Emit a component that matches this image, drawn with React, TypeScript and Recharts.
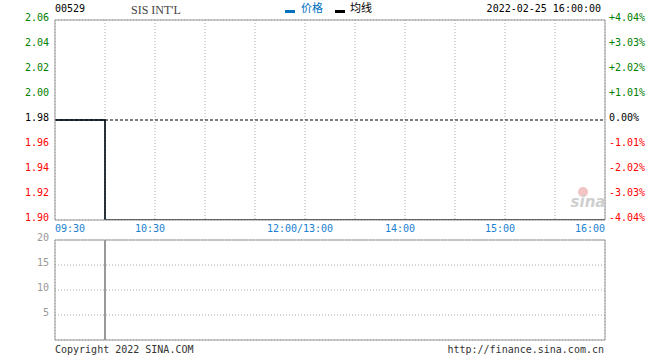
import React from "react";
import {
  ComposedChart,
  Line,
  Bar,
  XAxis,
  YAxis,
  CartesianGrid,
  ReferenceLine,
} from "recharts";

// minutes since 09:30 (lunch break removed), 330 = 16:00
const timeTicks = [0, 30, 60, 90, 120, 150, 180, 210, 240, 270, 300, 330];
const timeLabels: Record<number, string> = {
  0: "09:30",
  60: "10:30",
  150: "12:00/13:00",
  210: "14:00",
  270: "15:00",
  330: "16:00",
};

const priceMinutes = [0, 30, 330];
const prices = [1.98, 1.9, 1.9];
const avgPrices = [1.98, 1.9, 1.9];
const prevClose = 1.98;

const priceTicks = [1.9, 1.92, 1.94, 1.96, 1.98, 2.0, 2.02, 2.04, 2.06];
const pctLabels = ["-4.04%", "-3.03%", "-2.02%", "-1.01%", "0.00%", "+1.01%", "+2.02%", "+3.03%", "+4.04%"];

const volMinutes = [30];
const volumes = [20];
const volTicks = [0, 5, 10, 15, 20];

const priceData = priceMinutes.map((m, i) => ({ t: m, price: prices[i], avg: avgPrices[i] }));
const volData = volMinutes.map((m, i) => ({ t: m, vol: volumes[i] }));

const MONO = "'DejaVu Sans Mono', monospace";
const GREEN = "#008000";
const RED = "#ff0000";
const BLUE = "#1a7fd0";
const BORDER = "#999";

function colorFor(v: number) {
  if (Math.abs(v - prevClose) < 1e-6) return "#000";
  return v > prevClose ? GREEN : RED;
}

const LeftTick = (props: any) => {
  const { x, y, payload } = props;
  return (
    <text x={x} y={y - 2} textAnchor="end" dominantBaseline="middle" fontFamily={MONO} fontSize={10} fill={colorFor(payload.value)}>
      {payload.value.toFixed(2)}
    </text>
  );
};

const RightTick = (props: any) => {
  const { x, y, payload, index } = props;
  return (
    <text x={x} y={y - 2} textAnchor="start" dominantBaseline="middle" fontFamily={MONO} fontSize={10} fill={colorFor(payload.value)}>
      {pctLabels[index]}
    </text>
  );
};

const TimeTick = (props: any) => {
  const { x, y, payload } = props;
  const label = timeLabels[payload.value];
  if (!label) return null;
  let anchor: "start" | "middle" | "end" = "middle";
  let dx = -5;
  if (payload.value === 0) { anchor = "start"; dx = 0; }
  if (payload.value === 330) { anchor = "end"; dx = 0; }
  return (
    <text x={x + dx} y={y + 7} textAnchor={anchor} dominantBaseline="middle" fontFamily={MONO} fontSize={10} fill={BLUE}>
      {label}
    </text>
  );
};

const VolTick = (props: any) => {
  const { x, y, payload } = props;
  if (payload.value === 0) return null;
  return (
    <text x={x} y={y - 2} textAnchor="end" dominantBaseline="middle" fontFamily={MONO} fontSize={10} fill="#999">
      {payload.value}
    </text>
  );
};

export default function App() {
  return (
    <div style={{ position: "absolute", left: 0, top: 0, width: 660, height: 360, background: "#fff" }}>
      <div style={{ position: "absolute", left: 0, top: 0 }}>
        <ComposedChart width={660} height={240} data={priceData} margin={{ top: 20, right: 0, bottom: 0, left: 0 }}>
          <CartesianGrid stroke="#aaa" strokeDasharray="1 2" />
          <XAxis
            dataKey="t"
            type="number"
            domain={[0, 330]}
            ticks={timeTicks}
            interval={0}
            height={20}
            tickSize={0}
            tickLine={false}
            axisLine={{ stroke: BORDER }}
            tick={<TimeTick />}
          />
          <YAxis
            yAxisId="left"
            orientation="left"
            width={55}
            domain={[1.9, 2.06]}
            ticks={priceTicks}
            interval={0}
            allowDataOverflow
            tickSize={4}
            tickLine={false}
            axisLine={{ stroke: BORDER }}
            tick={<LeftTick />}
          />
          <YAxis
            yAxisId="right"
            orientation="right"
            width={55}
            domain={[1.9, 2.06]}
            ticks={priceTicks}
            interval={0}
            allowDataOverflow
            tickSize={2}
            tickLine={false}
            axisLine={{ stroke: BORDER }}
            tick={<RightTick />}
          />
          <ReferenceLine yAxisId="left" y={2.06} stroke={BORDER} />
          <ReferenceLine yAxisId="left" y={prevClose} stroke="#000" strokeDasharray="3 2" />
          <Line yAxisId="left" dataKey="price" type="stepAfter" stroke="#0070c0" strokeWidth={0.6} dot={false} isAnimationActive={false} />
          <Line yAxisId="left" dataKey="avg" type="stepAfter" stroke="#000" strokeWidth={1.5} dot={false} isAnimationActive={false} />
        </ComposedChart>
      </div>
      <div style={{ position: "absolute", left: 0, top: 230 }}>
        <ComposedChart width={660} height={111} data={volData} margin={{ top: 10, right: 55, bottom: 0, left: 0 }}>
          <CartesianGrid stroke="#aaa" strokeDasharray="1 2" />
          <XAxis
            dataKey="t"
            type="number"
            domain={[0, 330]}
            ticks={timeTicks}
            interval={0}
            height={1}
            tick={false}
            tickLine={false}
            axisLine={{ stroke: BORDER }}
          />
          <YAxis
            width={55}
            domain={[0, 20]}
            ticks={volTicks}
            interval={0}
            allowDataOverflow
            tickSize={4}
            tickLine={false}
            axisLine={{ stroke: BORDER }}
            tick={<VolTick />}
          />
          <ReferenceLine y={20} stroke={BORDER} />
          <ReferenceLine x={330} stroke={BORDER} />
          <Bar dataKey="vol" fill={BORDER} barSize={2} isAnimationActive={false} />
        </ComposedChart>
      </div>
      <svg width={660} height={360} style={{ position: "absolute", left: 0, top: 0, pointerEvents: "none" }}>
        <text x={55} y={9} dominantBaseline="middle" fontFamily={MONO} fontSize={10} fill="#000">00529</text>
        <text x={131} y={11} dominantBaseline="middle" fontFamily="'Liberation Serif', serif" fontSize={12} fill="#444">SIS INT'L</text>
        <rect x={285} y={10} width={10} height={3} fill="#0070c0" />
        <text x={301} y={9} dominantBaseline="middle" fontFamily="'Noto Sans CJK SC', sans-serif" fontSize={11} fill="#0070c0">价格</text>
        <rect x={335} y={10} width={10} height={3} fill="#000" />
        <text x={350} y={9} dominantBaseline="middle" fontFamily="'Noto Sans CJK SC', sans-serif" fontSize={11} fill="#000">均线</text>
        <text x={601} y={9} textAnchor="end" dominantBaseline="middle" fontFamily={MONO} fontSize={10} fill="#000">2022-02-25 16:00:00</text>
        <circle cx={583} cy={192} r={5} fill="#f3c4c4" />
        <text x={588} y={207} textAnchor="middle" fontFamily="'DejaVu Sans', sans-serif" fontStyle="italic" fontWeight="bold" fontSize={15} fill="#cfcfcf">sina</text>
        <text x={55} y={350} dominantBaseline="middle" fontFamily={MONO} fontSize={10} fill="#333">Copyright 2022 SINA.COM</text>
        <text x={604} y={350} textAnchor="end" dominantBaseline="middle" fontFamily={MONO} fontSize={10} fill="#333">http://finance.sina.com.cn</text>
      </svg>
    </div>
  );
}
